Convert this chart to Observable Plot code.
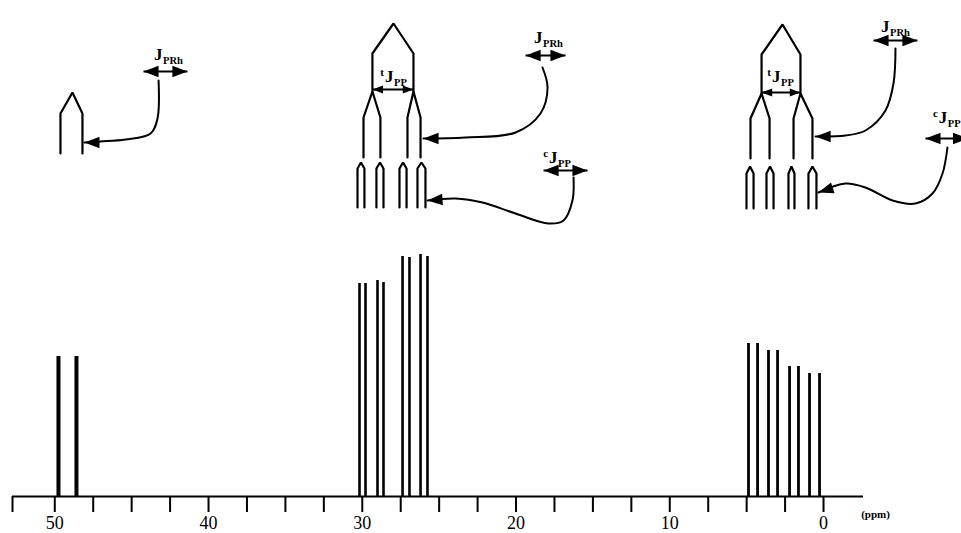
<!DOCTYPE html>
<html><head><meta charset="utf-8">
<script src="https://cdn.jsdelivr.net/npm/d3@7"></script>
<script src="https://cdn.jsdelivr.net/npm/@observablehq/plot@0.6"></script>
<style>body{margin:0;background:#fff;} svg{display:block}</style>
</head><body><div id="chart"></div>
<script>
// ---- spectrum data (ppm, relative intensity) ----
const peakPpmA = [49.76, 48.59];
const peakHtA = [140, 140];
const peakPpmB = [30.18, 29.79, 29.01, 28.62, 27.38, 26.93, 26.21, 25.76];
const peakHtB = [213, 213, 216, 214, 240, 239, 242, 240];
const peakPpmC = [4.88, 4.29, 3.58, 2.99, 2.21, 1.63, 0.91, 0.26];
const peakHtC = [153, 153, 146, 146, 130, 130, 123, 123];

// ---- axis ----
const majorTicks = [50, 40, 30, 20, 10, 0];
const minorTicks = [52.75, 47.5, 45, 42.5, 37.5, 35, 32.5, 27.5, 25, 22.5, 17.5, 15, 12.5, 7.5, 5, 2.5];
const axisUnit = "(ppm)";

// ---- splitting trees (ppm positions; levels in intensity units) ----
const leftTreeX = [49.63, 48.85, 48.20];
const leftTreeY = [343, 383, 404];
const midTopX = [29.34, 27.97, 26.67];
const midTopY = [405, 443, 473];
const midBranchX = [29.92, 28.82, 27.06, 26.21];
const midBranchY = [339, 379, 405];
const midArchX = [30.31, 29.86, 29.08, 28.62, 27.58, 27.12, 26.41, 25.89];
const midArchY = [289, 328, 334];
const rightTopX = [4.03, 2.67, 1.50];
const rightTopY = [403, 442, 472];
const rightBranchX = [4.75, 3.51, 1.95, 0.72];
const rightBranchY = [338, 378, 403];
const rightArchX = [5.01, 4.55, 3.71, 3.25, 2.28, 1.89, 0.98, 0.46];
const rightArchY = [288, 323, 330];

// ---- double-headed coupling arrows ----
const dblX1 = [44.23, 29.34, 19.38, 18.21, 4.03, -3.25, -6.63];
const dblX2 = [41.37, 26.67, 16.78, 15.35, 1.50, -6.11, -9.40];
const dblY = [425, 407, 441, 326, 404, 456, 358];
const dblSmall = [false, true, false, false, true, false, false];

// ---- curved pointer arrows ----
const curveLeftJ = [[43.25,416],[43.32,378],[43.77,363],[45.40,357],[47.03,355],[48.07,354]];
const curveMidJ = [[18.28,429],[17.95,409],[18.41,383],[20.03,364],[23.29,359],[26.02,358]];
const curveMidC = [[16.26,319],[16.33,296],[16.91,276],[17.89,273],[20.03,283],[22.18,294],[23.94,298],[25.76,296]];
const curveRightJ = [[-4.68,448],[-4.55,413],[-4.03,386],[-2.73,366],[-1.43,361],[0.52,360]];
const curveRightC = [[-8.06,349],[-7.74,323],[-7.09,303],[-5.98,293],[-4.49,296],[-2.73,309],[-1.43,313],[0.33,304]];
const curveTipAngle = [-90, -90, -94, -90, -108];

// ---- coupling labels ----
const labelX = [42.99, 27.97, 18.28, 17.30, 2.80, -4.29, -8.05];
const labelY = [436, 414, 453, 333, 414, 464, 373];
const labelSup = ["", "t", "", "c", "t", "", "c"];
const labelSub = ["PRh", "PP", "PRh", "PP", "PP", "PRh", "PP"];

// ---------------------------------------------------------------
const font = "Liberation Serif, Times New Roman, serif";

function pent(id, xl, xc, xr, [yb, ys, ya]) {
  return [[xl, yb], [xl, ys], [xc, ya], [xr, ys], [xr, yb]].map(([x, y]) => ({id, x, y}));
}
const treeRows = [
  ...pent("L", leftTreeX[0], leftTreeX[1], leftTreeX[2], leftTreeY),
  ...pent("M0", midTopX[0], midTopX[1], midTopX[2], midTopY),
  ...pent("M1", midBranchX[0], midTopX[0], midBranchX[1], midBranchY),
  ...pent("M2", midBranchX[2], midTopX[2], midBranchX[3], midBranchY),
  ...pent("R0", rightTopX[0], rightTopX[1], rightTopX[2], rightTopY),
  ...pent("R1", rightBranchX[0], rightTopX[0], rightBranchX[1], rightBranchY),
  ...pent("R2", rightBranchX[2], rightTopX[2], rightBranchX[3], rightBranchY)
];
for (let i = 0; i < 4; i++) {
  const a = midArchX[2 * i], b = midArchX[2 * i + 1];
  treeRows.push(...pent("Ma" + i, a, (a + b) / 2, b, midArchY));
  const c = rightArchX[2 * i], d = rightArchX[2 * i + 1];
  treeRows.push(...pent("Ra" + i, c, (c + d) / 2, d, rightArchY));
}

const peaks = (p, h) => p.map((x, i) => ({x, h: h[i]}));

const dblRows = dblX1.map((x1, i) => ({x1, x2: dblX2[i], y: dblY[i], small: dblSmall[i]}));
const headRows = dblRows.flatMap(d => [
  {x: d.x1, y: d.y, rot: -90, small: d.small},
  {x: d.x2, y: d.y, rot: 90, small: d.small}
]);

const curves = [curveLeftJ, curveMidJ, curveMidC, curveRightJ, curveRightC];
const curveRows = curves.flatMap((c, k) => c.map(([x, y]) => ({id: k, x, y})));
const curveTips = curves.map((c, k) => ({x: c[c.length - 1][0], y: c[c.length - 1][1], rot: curveTipAngle[k]}));

const labelRows = labelX.map((x, i) => ({x, y: labelY[i], sup: labelSup[i], sub: labelSub[i]}));

// arrow head: tip at origin, pointing up
const headSymbol = {
  draw(ctx, size) {
    const L = Math.sqrt(size);
    const W = L * 0.38;
    ctx.moveTo(0, 0);
    ctx.lineTo(-W, L);
    ctx.lineTo(W, L);
    ctx.closePath();
  }
};
const txt = {fontWeight: "bold", fontFamily: font, fill: "black"};

const chart = Plot.plot({
  width: 961,
  height: 533,
  marginLeft: 12,
  marginRight: 98,
  marginTop: 0,
  marginBottom: 37,
  x: {domain: [52.75, -2.6]},
  y: {domain: [0, 496], axis: null},
  style: {background: "white", fontFamily: font},
  marks: [
    Plot.ruleY([0], {strokeWidth: 2, stroke: "black"}),
    Plot.axisX({ticks: minorTicks, tickSize: 16, tickFormat: () => "", strokeWidth: 2, stroke: "black"}),
    Plot.axisX({ticks: majorTicks, tickSize: 16, tickPadding: 4, strokeWidth: 2, stroke: "black",
      fontSize: 18, fontFamily: font, fill: "black"}),
    Plot.text([axisUnit], {x: -3.38, y: -18, text: d => d, fontSize: 11, ...txt}),
    Plot.ruleX(peaks(peakPpmA, peakHtA), {x: "x", y1: 0, y2: "h", strokeWidth: 4, stroke: "black"}),
    Plot.ruleX(peaks(peakPpmB, peakHtB), {x: "x", y1: 0, y2: "h", strokeWidth: 2.6, stroke: "black"}),
    Plot.ruleX(peaks(peakPpmC, peakHtC), {x: "x", y1: 0, y2: "h", strokeWidth: 2.8, stroke: "black"}),
    Plot.line(treeRows, {x: "x", y: "y", z: "id", stroke: "black", strokeWidth: 2.2, strokeLinejoin: "miter"}),
    Plot.link(dblRows, {x1: "x1", x2: "x2", y1: "y", y2: "y", stroke: "black", strokeWidth: 2}),
    Plot.dot(headRows.filter(d => !d.small), {x: "x", y: "y", r: 8.5, rotate: "rot", symbol: headSymbol, fill: "black", stroke: "none"}),
    Plot.dot(headRows.filter(d => d.small), {x: "x", y: "y", r: 6, rotate: "rot", symbol: headSymbol, fill: "black", stroke: "none"}),
    Plot.line(curveRows, {x: "x", y: "y", z: "id", curve: "catmull-rom", stroke: "black", strokeWidth: 2}),
    Plot.dot(curveTips, {x: "x", y: "y", r: 8.5, rotate: "rot", symbol: headSymbol, fill: "black", stroke: "none"}),
    Plot.text(labelRows, {x: "x", y: "y", text: () => "J", textAnchor: "end", dy: -5.5, fontSize: 17, ...txt}),
    Plot.text(labelRows, {x: "x", y: "y", text: "sub", textAnchor: "start", dx: 0.5, dy: 0, fontSize: 10.5, ...txt}),
    Plot.text(labelRows, {x: "x", y: "y", text: "sup", textAnchor: "end", dx: -9.5, dy: -10, fontSize: 11, ...txt})
  ]
});
document.getElementById("chart").appendChild(chart);
</script>
</body></html>
